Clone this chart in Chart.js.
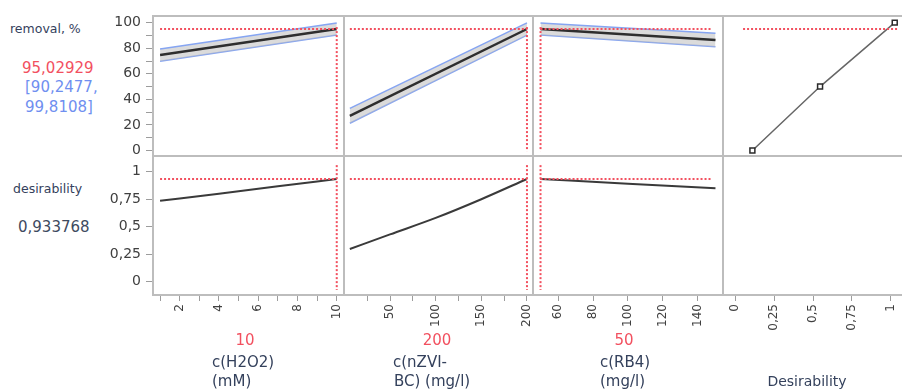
<!DOCTYPE html>
<html>
<head>
<meta charset="utf-8">
<script src="https://cdn.jsdelivr.net/npm/chart.js@4"></script>
<style>
  body { margin: 0; width: 902px; height: 390px; overflow: hidden; background: #fff; position: relative; font-family: "DejaVu Sans", sans-serif; }
  .t { position: absolute; white-space: nowrap; line-height: 1; }
</style>
</head>
<body>
<script>

// removal, % vs c(H2O2) (mM)
const h2o2X = [1, 10];
const h2o2Removal = [74.7, 95.03];
const h2o2Upper = [79.3, 99.81];
const h2o2Lower = [69.8, 90.25];

// removal, % vs c(nZVI-BC) (mg/l)
const nzviX = [6, 200];
const nzviRemoval = [27, 95.03];
const nzviUpper = [33, 99.81];
const nzviLower = [21.3, 90.25];

// removal, % vs c(RB4) (mg/l)
const rb4X = [50, 150];
const rb4Removal = [95.03, 86.5];
const rb4Upper = [99.81, 91.7];
const rb4Lower = [90.25, 81.2];

// desirability traces
const h2o2DesX = [1, 4, 7, 10];
const h2o2Des = [0.735, 0.8, 0.868, 0.934];
const nzviDesX = [6, 50, 100, 150, 200];
const nzviDes = [0.297, 0.43, 0.58, 0.75, 0.934];
const rb4DesX = [50, 100, 150];
const rb4Des = [0.934, 0.89, 0.849];

// desirability function (desirability on x, removal on y)
const desFnX = [0.11, 0.545, 1.025];
const desFnY = [0, 50, 100];

// current settings
const curH2o2 = 10;
const curNzvi = 200;
const curRb4 = 50;
const curRemoval = 95.02929;
const curRemovalCI = [90.2477, 99.8108];
const curDesirability = 0.933768;

// tick values
const removalTicks = [0, 10, 20, 30, 40, 50, 60, 70, 80, 90, 100];
const desTicks = [0, 0.25, 0.5, 0.75, 1];
const h2o2Ticks = [1, 2, 3, 4, 5, 6, 7, 8, 9, 10];
const nzviTicks = [25, 50, 75, 100, 125, 150, 175, 200];
const rb4Ticks = [60, 80, 100, 120, 140];
const desAxisTicks = [0, 0.25, 0.5, 0.75, 1];

// ---------- Layout ---------- //
const PAD = 4;
const Y_AXIS_W = 49;
const X_AXIS_H = 44;
const colEdges = [153, 344, 533, 723, 912];
const rowEdges = [16, 156, 295];
const FONT = '"DejaVu Sans", sans-serif';
const RED = '#f2505f';
const BLUE = '#86a5f2';

const comma = v => String(v).replace('.', ',');
const pts = (xs, ys) => xs.map((x, i) => ({ x, y: ys[i] }));

const framePlugin = {
  id: 'frame',
  afterDatasetsDraw(chart) {
    const { ctx, chartArea: a } = chart;
    ctx.save();
    ctx.strokeStyle = '#bdbdbd';
    ctx.lineWidth = 2;
    ctx.strokeRect(a.left, a.top, a.right - a.left, a.bottom - a.top);
    ctx.restore();
  }
};

// fixed axis sizes, no extra room for overhanging labels
function fixSize(s, size) {
  if (s.isHorizontal()) s.height = size; else s.width = size;
  s.paddingLeft = s.paddingRight = s.paddingTop = s.paddingBottom = 0;
}

function dotted(data) {
  return { data, borderColor: RED, borderWidth: 2, borderDash: [2, 2], pointRadius: 0, order: 0 };
}

function band(xs, mid, up, lo) {
  return [
    { data: pts(xs, up), borderColor: BLUE, borderWidth: 1.5, pointRadius: 0, fill: '+1', backgroundColor: 'rgba(190,190,190,0.55)', order: 2 },
    { data: pts(xs, lo), borderColor: BLUE, borderWidth: 1.5, pointRadius: 0, fill: false, order: 2 },
    { data: pts(xs, mid), borderColor: '#2e2e2e', borderWidth: 2.5, pointRadius: 0, order: 1 }
  ];
}

function trace(xs, ys) {
  return { data: pts(xs, ys), borderColor: '#3a3a3a', borderWidth: 2, pointRadius: 0, cubicInterpolationMode: 'monotone', order: 1 };
}

function panel(col, row, cfg) {
  const left = colEdges[col], right = colEdges[col + 1];
  const top = rowEdges[row], bottom = rowEdges[row + 1];
  const showY = col === 0, showX = row === 1;
  const w = right - left + 2 * PAD + (showY ? Y_AXIS_W : 0);
  const h = bottom - top + 2 * PAD + (showX ? X_AXIS_H : 0);
  const canvas = document.createElement('canvas');
  canvas.width = w;
  canvas.height = h;
  canvas.style.cssText = `position:absolute;left:${left - PAD - (showY ? Y_AXIS_W : 0)}px;top:${top - PAD}px;width:${w}px;height:${h}px`;
  document.body.appendChild(canvas);

  new Chart(canvas, {
    type: 'line',
    data: { datasets: cfg.datasets },
    options: {
      responsive: false,
      animation: false,
      events: [],
      layout: { padding: PAD, autoPadding: false },
      plugins: { legend: { display: false }, tooltip: { enabled: false } },
      scales: {
        x: {
          type: 'linear',
          display: showX,
          min: cfg.xMin,
          max: cfg.xMax,
          afterBuildTicks: s => { s.ticks = cfg.xTicks.map(v => ({ value: v })); },
          afterFit: s => fixSize(s, showX ? X_AXIS_H : 0),
          border: { display: false },
          grid: { drawOnChartArea: false, tickLength: 6, color: '#9c9c9c' },
          ticks: {
            autoSkip: false, minRotation: 90, maxRotation: 90, padding: 3,
            color: '#404040', font: { family: FONT, size: 12 },
            callback: v => cfg.xLabel(v)
          }
        },
        y: {
          type: 'linear',
          display: showY,
          min: cfg.yMin,
          max: cfg.yMax,
          afterBuildTicks: s => { s.ticks = cfg.yTicks.map(v => ({ value: v })); },
          afterFit: s => fixSize(s, showY ? Y_AXIS_W : 0),
          border: { display: false },
          grid: { drawOnChartArea: false, tickLength: 7, color: '#9c9c9c' },
          ticks: {
            autoSkip: false, padding: 5,
            color: '#404040', font: { family: FONT, size: 14 },
            callback: v => cfg.yLabel(v)
          }
        }
      }
    },
    plugins: [framePlugin]
  });
}

const topRow = { yMin: -4.3, yMax: 105.2, yTicks: removalTicks, yLabel: v => (v % 20 === 0 ? comma(v) : '') };
const botRow = { yMin: -0.121, yMax: 1.143, yTicks: desTicks, yLabel: v => comma(v) };
const cols = [
  { xMin: 0.64, xMax: 10.37, xTicks: h2o2Ticks, xLabel: v => (v % 2 === 0 ? comma(v) : '') },
  { xMin: -0.4, xMax: 206.6, xTicks: nzviTicks, xLabel: v => (v % 50 === 0 ? comma(v) : '') },
  { xMin: 45.7, xMax: 154.3, xTicks: rb4Ticks, xLabel: v => comma(v) },
  { xMin: -0.079, xMax: 1.136, xTicks: desAxisTicks, xLabel: v => comma(v) }
];

// top row: predicted removal with confidence band
panel(0, 0, { ...cols[0], ...topRow, datasets: [
  ...band(h2o2X, h2o2Removal, h2o2Upper, h2o2Lower),
  dotted(pts([1, curH2o2], [curRemoval, curRemoval])),
  dotted(pts([curH2o2, curH2o2], [curRemoval + 1.5, -0.5]))
] });
panel(1, 0, { ...cols[1], ...topRow, datasets: [
  ...band(nzviX, nzviRemoval, nzviUpper, nzviLower),
  dotted(pts([6, curNzvi], [curRemoval, curRemoval])),
  dotted(pts([curNzvi, curNzvi], [curRemoval + 1.5, -0.5]))
] });
panel(2, 0, { ...cols[2], ...topRow, datasets: [
  ...band(rb4X, rb4Removal, rb4Upper, rb4Lower),
  dotted(pts([curRb4, 148], [curRemoval, curRemoval])),
  dotted(pts([curRb4, curRb4], [curRemoval + 1.5, -0.5]))
] });
panel(3, 0, { ...cols[3], ...topRow, datasets: [
  { data: pts(desFnX, desFnY), borderColor: '#666', borderWidth: 1.5, pointStyle: 'rect', pointRadius: 3.5,
    pointBorderColor: '#2a2a2a', pointBorderWidth: 1.5, pointBackgroundColor: '#fff', order: 1 },
  dotted(pts([0.05, 1.04], [curRemoval, curRemoval]))
] });

// bottom row: desirability traces
panel(0, 1, { ...cols[0], ...botRow, datasets: [
  trace(h2o2DesX, h2o2Des),
  dotted(pts([1, curH2o2], [curDesirability, curDesirability])),
  dotted(pts([curH2o2, curH2o2], [1.06, -0.075]))
] });
panel(1, 1, { ...cols[1], ...botRow, datasets: [
  trace(nzviDesX, nzviDes),
  dotted(pts([6, curNzvi], [curDesirability, curDesirability])),
  dotted(pts([curNzvi, curNzvi], [1.06, -0.075]))
] });
panel(2, 1, { ...cols[2], ...botRow, datasets: [
  trace(rb4DesX, rb4Des),
  dotted(pts([curRb4, 148], [curDesirability, curDesirability])),
  dotted(pts([curRb4, curRb4], [1.06, -0.075]))
] });
panel(3, 1, { ...cols[3], ...botRow, datasets: [] });

// ---------- Text labels ---------- //
function text(str, x, cy, size, color, center) {
  const d = document.createElement('div');
  d.className = 't';
  d.textContent = str;
  d.style.cssText += `left:${x}px;top:${cy - size * 0.5}px;font-size:${size}px;color:${color};` +
    (center ? 'transform:translateX(-50%);' : '');
  document.body.appendChild(d);
}

const DARK = '#34415c';
text('removal, %', 10, 29, 12.5, DARK);
text(comma(curRemoval), 22, 68, 15, RED);
text('[' + comma(curRemovalCI[0]) + ',', 25, 87, 15, '#6f8ff0');
text(comma(curRemovalCI[1]) + ']', 25, 107, 15, '#6f8ff0');
text('desirability', 13, 189, 12.5, DARK);
text(comma(curDesirability), 18, 227, 15, '#3e4a60');

text(String(curH2o2), 245, 340, 15, RED, true);
text('c(H2O2)', 212, 362, 15, DARK);
text('(mM)', 212, 381, 15, DARK);

text(String(curNzvi), 437, 340, 15, RED, true);
text('c(nZVI-', 393, 362, 15, DARK);
text('BC) (mg/l)', 394, 381, 15, DARK);

text(String(curRb4), 624, 340, 15, RED, true);
text('c(RB4)', 600, 362, 15, DARK);
text('(mg/l)', 600, 381, 15, DARK);

text('Desirability', 807, 381, 14, DARK, true);
</script>
</body>
</html>
